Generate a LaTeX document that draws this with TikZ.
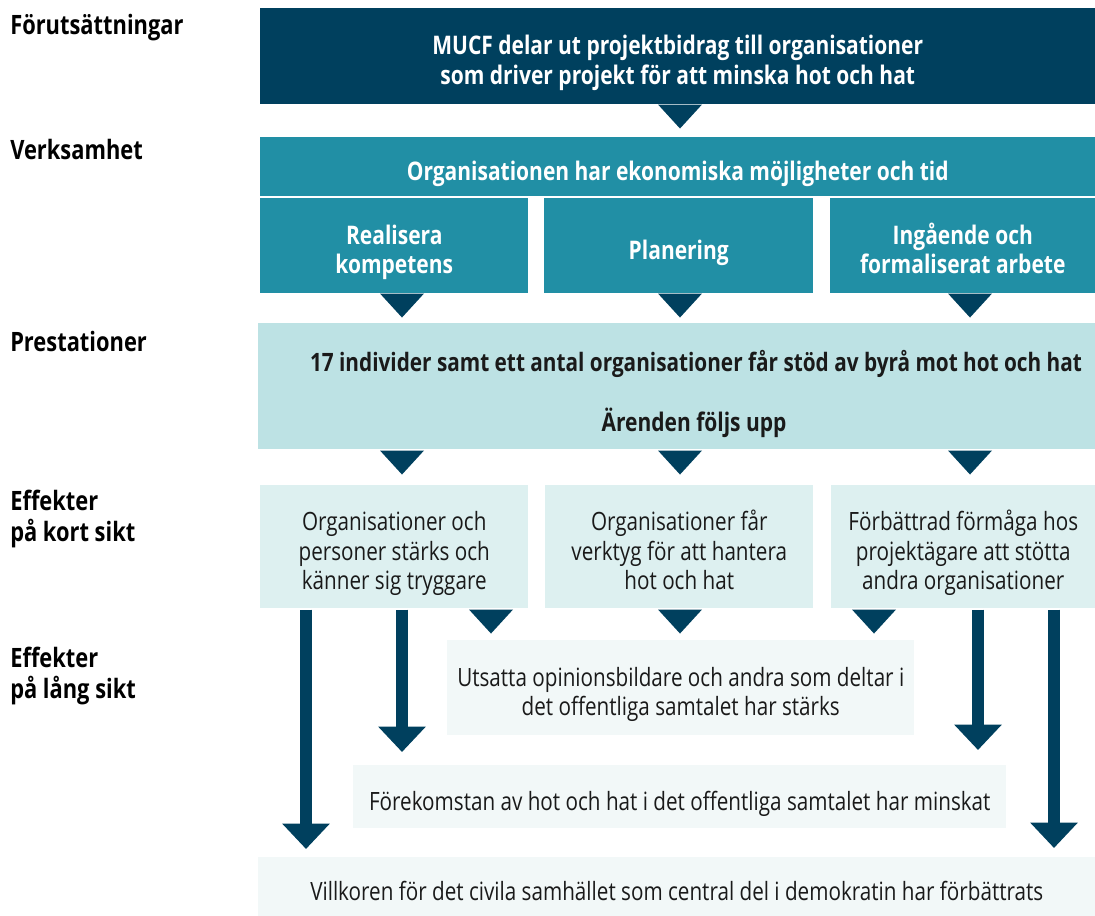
\documentclass[tikz,border=0pt]{standalone}
\usepackage{fontspec}
\setmainfont[FakeStretch=0.82]{Open Sans}
\usetikzlibrary{arrows.meta,calc}

\definecolor{mucfdark}{HTML}{00405E}
\definecolor{mucfteal}{HTML}{218FA5}
\definecolor{mucflight}{HTML}{BDE2E4}
\definecolor{mucfpale}{HTML}{DDF0F0}
\definecolor{mucfwhite}{HTML}{F2F8F8}
\definecolor{mucftext}{HTML}{1A1A1A}

\tikzset{
  box/.style={rectangle,anchor=north west,inner sep=0pt,align=center,
    text=mucftext,font=\fontsize{18.9}{22.2}\selectfont},
  bw/.style={minimum width=#1*0.75pt},
  bh/.style={minimum height=#1*0.75pt},
  boldbox/.style={box,font=\bfseries\fontsize{19.2}{22.2}\selectfont},
  head/.style={anchor=base west,inner sep=0pt,align=left,
    font=\bfseries\fontsize{20}{22.6}\selectfont},
  bigarrow/.style={draw=mucfdark,line width=9.4pt,
    -{Triangle[width=34.5pt,length=19pt]}}
}
% struts so that every box text sits the same way
\newcommand{\upstrut}{\rule{0pt}{26pt}}
\newcommand{\dnstrut}{\rule[-6pt]{0pt}{0pt}}
% small triangle hanging under a box
\newcommand{\drop}[1]{\fill[mucfdark] #1 ++(-22,0) -- ++(44,0) -- ++(-22,24) -- cycle;}

\begin{document}
\begin{tikzpicture}[x=0.75pt,y=-0.75pt]
\useasboundingbox (0,0) rectangle (1095,916);

% row titles
\node[head] (hForut) at (10,35) {Förutsättningar};
\node[head] (hVerk) at (10,160) {Verksamhet};
\node[head] (hPrest) at (10,351) {Prestationer};
\node[head] (hKort) at (10,541) {Effekter\\på kort sikt};
\node[head] (hLang) at (10,698) {Effekter\\på lång sikt};

% boxes
\node[boldbox,fill=mucfdark,text=white,bw=835,bh=96] (mucf) at (260,8)
  {\upstrut MUCF delar ut projektbidrag till organisationer\\som driver projekt för att minska hot och hat\dnstrut};
\node[boldbox,fill=mucfteal,text=white,bw=835,bh=59] (verk) at (260,137)
  {\upstrut Organisationen har ekonomiska möjligheter och tid\dnstrut};
\node[boldbox,fill=mucfteal,text=white,bw=268,bh=95] (real) at (260,198)
  {\upstrut Realisera\\kompetens\dnstrut};
\node[boldbox,fill=mucfteal,text=white,bw=269,bh=95] (plan) at (544,198)
  {\upstrut Planering\dnstrut};
\node[boldbox,fill=mucfteal,text=white,bw=265,bh=95] (ingaende) at (830,198)
  {\upstrut Ingående och\\formaliserat arbete\dnstrut};

\node[box,fill=mucflight,bw=837,bh=126] (prest) at (258,323) {};
\node[boldbox,anchor=center,font=\bfseries\fontsize{19}{22.2}\selectfont] (prest1) at (696,364)
  {17 individer samt ett antal organisationer får stöd av byrå mot hot och hat};
\node[boldbox,anchor=center] (prest2) at (694,423) {Ärenden följs upp};

\node[box,fill=mucfpale,bw=268,bh=123] (kort1) at (260,485)
  {\upstrut Organisationer och\\personer stärks och\\känner sig tryggare\dnstrut};
\node[box,fill=mucfpale,bw=268,bh=123] (kort2) at (545,485)
  {\upstrut Organisationer får\\verktyg för att hantera\\hot och hat\dnstrut};
\node[box,fill=mucfpale,bw=264,bh=123] (kort3) at (831,485)
  {\upstrut Förbättrad förmåga hos\\projektägare att stötta\\andra organisationer\dnstrut};

\node[box,fill=mucfwhite,bw=467,bh=95] (utsatta) at (447,640)
  {\upstrut Utsatta opinionsbildare och andra som deltar i\\det offentliga samtalet har stärks\dnstrut};
\node[box,fill=mucfwhite,bw=653,bh=63] (forek) at (353,765)
  {\upstrut Förekomstan av hot och hat i det offentliga samtalet har minskat\dnstrut};
\node[box,fill=mucfwhite,bw=837,bh=59] (villkor) at (258,857)
  {\upstrut Villkoren för det civila samhället som central del i demokratin har förbättrats\dnstrut};

% triangles
\drop{($(mucf.south west)+(420,0)$)}
\drop{($(real.south west)+(142,0)$)}
\drop{($(plan.south west)+(136,0)$)}
\drop{($(ingaende.south west)+(140,0)$)}
\drop{($(prest.south west)+(144,1)$)}
\drop{($(prest.south west)+(422,1)$)}
\drop{($(prest.south west)+(712,1)$)}
\drop{($(kort1.south west)+(231,1)$)}
\drop{($(kort2.south west)+(135,1)$)}
\drop{($(kort3.south west)+(43,1)$)}

% long arrows
\draw[bigarrow] ($(kort1.south west)+(46,1)$) -- ($(villkor.north west)+(48,-8)$);
\draw[bigarrow] ($(kort1.south west)+(142,1)$) -- ($(forek.north west)+(49,-13)$);
\draw[bigarrow] ($(kort3.south west)+(147,1)$) -- ($(forek.north west)+(625,-15)$);
\draw[bigarrow] ($(kort3.south west)+(223,1)$) -- ($(villkor.north west)+(796,-9)$);
\end{tikzpicture}
\end{document}
